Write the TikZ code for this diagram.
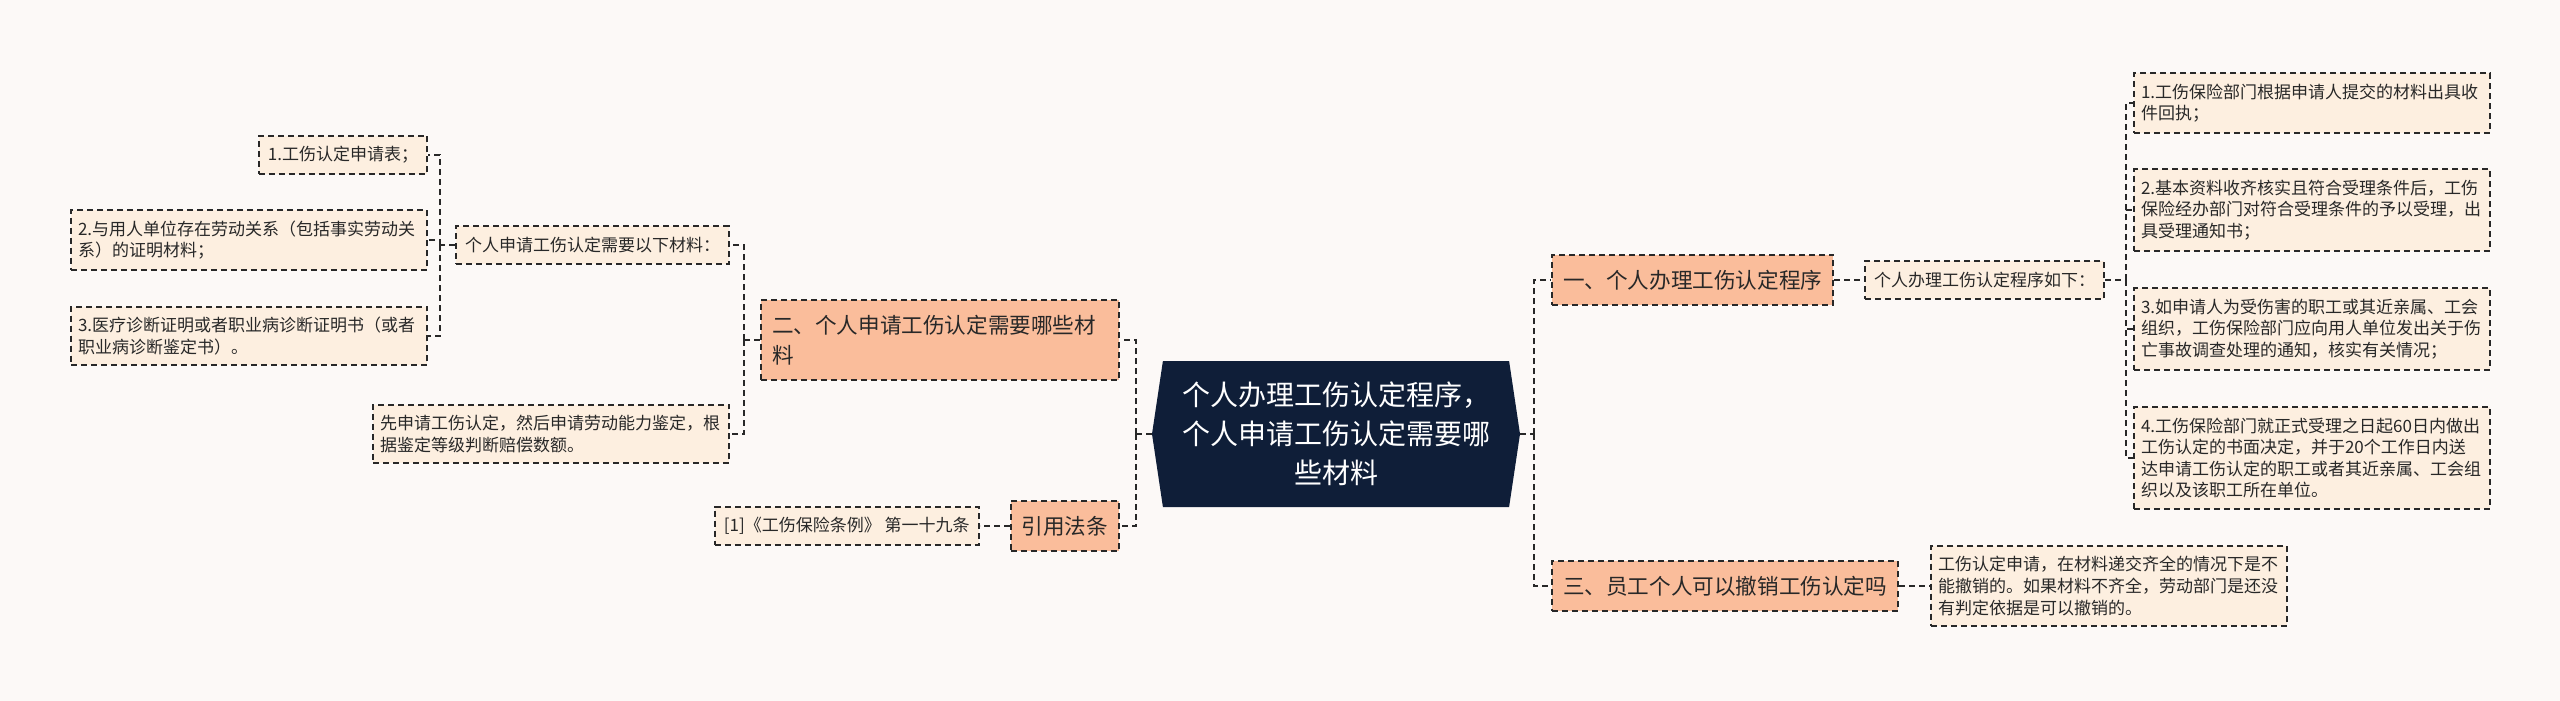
\documentclass[tikz,border=0pt]{standalone}
\usepackage{fontspec}
\setmainfont{Noto Sans CJK SC}
\usepackage{xcolor}
\usetikzlibrary{positioning,shapes.symbols}
\definecolor{paperbg}{RGB}{252,249,247}
\definecolor{leaffill}{RGB}{253,239,224}
\definecolor{topicfill}{RGB}{250,189,155}
\definecolor{hubfill}{RGB}{15,30,56}
\definecolor{inkgray}{RGB}{40,40,40}

\begin{document}
\begin{tikzpicture}[
x=0.5pt, y=-0.5pt,
link/.style={draw=inkgray, line width=1pt, dash pattern=on 3pt off 2pt},
leaf/.style={link, fill=leaffill, text=inkgray, align=left, inner xsep=4.5pt, inner ysep=5.3pt, font=\fontsize{8.5}{10.8}\selectfont},
leafw/.style={leaf, text width=171pt, inner xsep=3.5pt},
topic/.style={link, fill=topicfill, text=inkgray, align=left, inner xsep=5.5pt, inner ysep=7.5pt, font=\fontsize{10.8}{15}\selectfont},
hub/.style={signal, signal to=east and west, signal pointer angle=163, fill=hubfill, text=white, align=center, minimum width=184pt, minimum height=73pt, font=\fontsize{14}{19.5}\selectfont}
]
\useasboundingbox (0,0) rectangle (2560,701);
\fill[paperbg] (0,0) rectangle (2560,701);

\node[hub] (hub) at (1336,434) {个人办理工伤认定程序，\\个人申请工伤认定需要哪\\些材料};

\node[topic, anchor=east, text width=168pt] (b2) at (1120,340) {二、个人申请工伤认定需要哪些材\\料};
\node[topic, anchor=east] (ref) at (1120,526) {引用法条};
\node[leaf, left=15pt of ref] (refc) {[1]《工伤保险条例》 第一十九条};
\node[leaf, anchor=east] (need) at (730,245) {个人申请工伤认定需要以下材料：};
\node[leafw, anchor=east] (order) at (730,434) {先申请工伤认定，然后申请劳动能力鉴定，根\\据鉴定等级判断赔偿数额。};
\node[leaf, anchor=east] (m1) at (428,155) {1.工伤认定申请表；};
\node[leafw, anchor=east] (m2) at (428,240) {2.与用人单位存在劳动关系（包括事实劳动关\\系）的证明材料；};
\node[leafw, anchor=east] (m3) at (428,336) {3.医疗诊断证明或者职业病诊断证明书（或者\\职业病诊断鉴定书）。};

\node[topic, anchor=west] (b1) at (1551,280) {一、个人办理工伤认定程序};
\node[leaf, right=15pt of b1] (steps) {个人办理工伤认定程序如下：};
\node[leafw, anchor=west] (s1) at (2133,103) {1.工伤保险部门根据申请人提交的材料出具收\\件回执；};
\node[leafw, anchor=west] (s2) at (2133,210) {2.基本资料收齐核实且符合受理条件后，工伤\\保险经办部门对符合受理条件的予以受理，出\\具受理通知书；};
\node[leafw, anchor=west] (s3) at (2133,329) {3.如申请人为受伤害的职工或其近亲属、工会\\组织，工伤保险部门应向用人单位发出关于伤\\亡事故调查处理的通知，核实有关情况；};
\node[leafw, anchor=west] (s4) at (2133,458) {4.工伤保险部门就正式受理之日起60日内做出\\工伤认定的书面决定，并于20个工作日内送\\达申请工伤认定的职工或者其近亲属、工会组\\织以及该职工所在单位。};
\node[topic, anchor=west] (b3) at (1551,586) {三、员工个人可以撤销工伤认定吗};
\node[leafw, right=15.5pt of b3] (revoke) {工伤认定申请，在材料递交齐全的情况下是不\\能撤销的。如果材料不齐全，劳动部门是还没\\有判定依据是可以撤销的。};

\draw[link] (hub.east) -- ++(14,0) coordinate (rtrunk);
\draw[link] (rtrunk) |- (b1.west);
\draw[link] (rtrunk) |- (b3.west);
\draw[link] (b1.east) -- (steps.west);
\draw[link] (b3.east) -- (revoke.west);
\draw[link] (steps.east) -- ++(21,0) coordinate (stepstrunk);
\draw[link] (stepstrunk) |- (s1.west);
\draw[link] (stepstrunk) |- (s2.west);
\draw[link] (stepstrunk) |- (s3.west);
\draw[link] (stepstrunk) |- (s4.west);

\draw[link] (hub.west) -- ++(-16,0) coordinate (ltrunk);
\draw[link] (ltrunk) |- (b2.east);
\draw[link] (ltrunk) |- (ref.east);
\draw[link] (ref.west) -- (refc.east);
\draw[link] (b2.west) -- ++(-16,0) coordinate (b2trunk);
\draw[link] (b2trunk) |- (need.east);
\draw[link] (b2trunk) |- (order.east);
\draw[link] (need.west) -- ++(-15,0) coordinate (needtrunk);
\draw[link] (needtrunk) |- (m1.east);
\draw[link] (needtrunk) |- (m2.east);
\draw[link] (needtrunk) |- (m3.east);
\end{tikzpicture}
\end{document}
